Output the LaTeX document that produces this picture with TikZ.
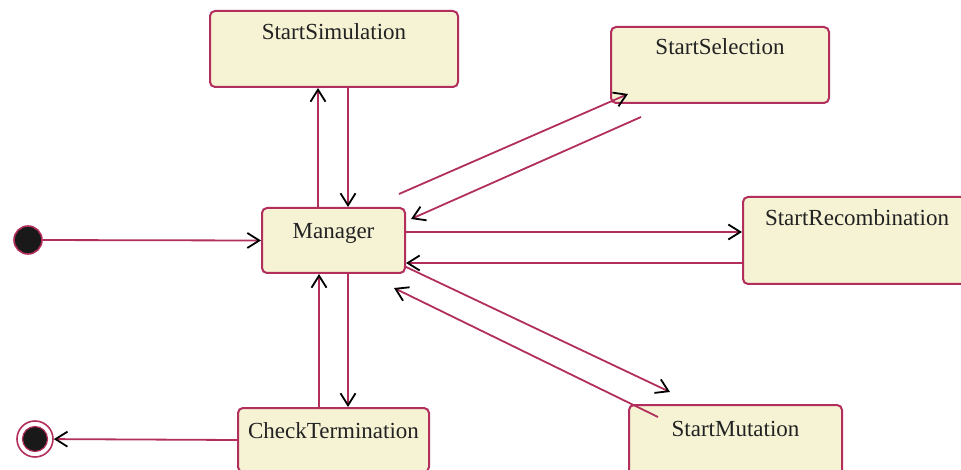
\documentclass[tikz,border=0pt]{standalone}
\usepackage{fontspec}
\setmainfont{Liberation Serif}
\newfontfamily\statefont{Liberation Serif}
\usetikzlibrary{arrows.meta,calc}
\definecolor{edge}{RGB}{178,46,92}
\definecolor{boxfill}{RGB}{245,243,212}
\definecolor{ink}{RGB}{34,34,34}
\begin{document}
\begin{tikzpicture}[x=1pt,y=-1pt,
  statebox/.style={draw=edge,fill=boxfill,line width=2pt,rounded corners=5pt,
    anchor=north west,inner xsep=0pt,inner ysep=0pt,text=ink,
    font=\statefont\fontsize{23}{27}\selectfont},
  conn/.style={draw=edge,line width=1.8pt,
    -{Straight Barb[length=12pt,width=15pt,color=black,line width=1.8pt]}},
  initdot/.style={circle,fill=black!90,draw=edge,line width=1.6pt,minimum size=28pt,inner sep=0pt},
]
\useasboundingbox (0,0) rectangle (961,470);
% states
\node[statebox,minimum width=248pt,minimum height=76pt,text height=29pt,text depth=47pt] (sim) at (209,10) {StartSimulation};
\node[statebox,minimum width=143pt,minimum height=65pt,text height=31pt,text depth=34pt] (man) at (261,207) {Manager};
\node[statebox,minimum width=218pt,minimum height=76pt,text height=28pt,text depth=48pt] (sel) at (610,26) {StartSelection};
\node[statebox,minimum width=228pt,minimum height=87pt,text height=29pt,text depth=58pt] (rec) at (742,196) {StartRecombination};
\node[statebox,minimum width=191pt,minimum height=64pt,text height=30pt,text depth=34pt] (chk) at (237,407) {CheckTermination};
\node[statebox,minimum width=213pt,minimum height=70pt,text height=31pt,text depth=39pt] (mut) at (628,404) {StartMutation};
% pseudo states
\node[initdot] (init) at (28,240) {};
\node[circle,draw=edge,line width=1.6pt,fill=white,minimum size=36pt,inner sep=0pt] (final) at (35,439) {};
\node[circle,fill=black!90,draw=edge,line width=1.2pt,minimum size=25pt,inner sep=0pt] (finalin) at (final.center) {};
% transitions
\draw[conn] (init) -- (man.west);
\draw[conn] ([shift={(-15.5,0)}]man.north) -- ([shift={(-16,0)}]sim.south);
\draw[conn] ([shift={(14,0)}]sim.south) -- ([shift={(14.5,0)}]man.north);
\draw[conn] ([shift={(-7,-13)}]man.north east) -- ([shift={(18,-10)}]sel.south west);
\draw[conn] ([shift={(31,13)}]sel.south west) -- ([shift={(5,12)}]man.north east);
\draw[conn] ([shift={(0,-8.5)}]man.east) -- ([shift={(0,-8.5)}]rec.west);
\draw[conn] ([shift={(0,22.5)}]rec.west) -- ([shift={(0,22.5)}]man.east);
\draw[conn] ([shift={(-2,-8)}]man.south east) -- ([shift={(42,-12)}]mut.north west);
\draw[conn] ([shift={(30,13)}]mut.north west) -- ([shift={(-12,14)}]man.south east);
\draw[conn] ([shift={(-14.5,0)}]chk.north) -- ([shift={(-14.5,0)}]man.south);
\draw[conn] ([shift={(14.5,0)}]man.south) -- ([shift={(14.5,0)}]chk.north);
\draw[conn] (chk.west) -- (final);
\end{tikzpicture}
\end{document}
